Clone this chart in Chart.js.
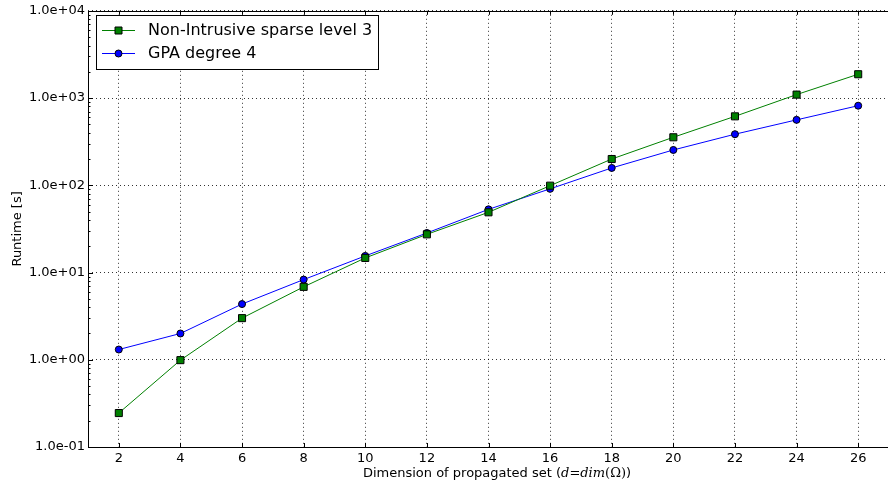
<!DOCTYPE html>
<html>
<head>
<meta charset="utf-8">
<script src="https://cdn.jsdelivr.net/npm/chart.js@4/dist/chart.umd.min.js"></script>
<style>
  html, body { margin: 0; padding: 0; background: #fff; overflow: hidden; }
  canvas { display: block; }
</style>
</head>
<body>
<canvas id="grafica" width="900" height="488"></canvas>
<script>
// dimension of the propagated set
const dims = [2, 4, 6, 8, 10, 12, 14, 16, 18, 20, 22, 24, 26];
// runtime in seconds
const nonIntrusive = [0.245, 0.99, 3.0, 6.85, 14.7, 27.4, 49, 99, 200, 355, 617, 1095, 1875];
const gpa = [1.31, 2.0, 4.35, 8.3, 15.5, 28.4, 53, 91, 158, 254, 385, 562, 817];

const yTicks = [0.1, 1, 10, 100, 1000, 10000];
const yTickLabels = ["1.0e-01", "1.0e+00", "1.0e+01", "1.0e+02", "1.0e+03", "1.0e+04"];

const fuente = "'DejaVu Sans', sans-serif";

function puntos(valores) {
  return dims.map((d, i) => ({ x: d, y: valores[i] }));
}

// frame, inward ticks, axis titles and legend box
const extras = {
  id: "extras",
  afterDraw(chart) {
    const ctx = chart.ctx;
    const area = chart.chartArea;
    const xs = chart.scales.x;
    const ys = chart.scales.y;
    ctx.save();
    ctx.strokeStyle = "#000";
    ctx.lineWidth = 1;

    // axes frame
    ctx.strokeRect(area.left + 0.5, Math.round(area.top) + 0.5, area.right - area.left, Math.round(area.bottom - area.top));

    // x major ticks (bottom and top)
    ctx.beginPath();
    for (const d of dims) {
      const px = Math.round(xs.getPixelForValue(d)) + 0.5;
      ctx.moveTo(px, area.bottom);
      ctx.lineTo(px, area.bottom - 4);
      ctx.moveTo(px, area.top);
      ctx.lineTo(px, area.top + 4);
    }
    // y major and minor ticks
    for (let k = 0; k < yTicks.length; k++) {
      const py = Math.round(ys.getPixelForValue(yTicks[k])) + 0.5;
      ctx.moveTo(area.left, py);
      ctx.lineTo(area.left + 5, py);
      if (k < yTicks.length - 1) {
        for (let m = 2; m <= 9; m++) {
          const pm = Math.round(ys.getPixelForValue(m * yTicks[k])) + 0.5;
          ctx.moveTo(area.left, pm);
          ctx.lineTo(area.left + 2.5, pm);
        }
      }
    }
    ctx.stroke();

    // y title
    ctx.fillStyle = "#000";
    ctx.font = "13px " + fuente;
    ctx.textAlign = "center";
    ctx.textBaseline = "middle";
    ctx.save();
    ctx.translate(18, (area.top + area.bottom) / 2);
    ctx.rotate(-Math.PI / 2);
    ctx.fillText("Runtime [s]", 0, 0);
    ctx.restore();

    // x title with math part
    const partes = [
      ["Dimension of propagated set (", "13px " + fuente],
      ["d", "italic 13px 'DejaVu Serif', serif"],
      ["=", "13px 'DejaVu Serif', serif"],
      ["dim", "italic 13px 'DejaVu Serif', serif"],
      ["(Ω)", "13px 'DejaVu Serif', serif"],
      [")", "13px " + fuente]
    ];
    let total = 0;
    for (const p of partes) { ctx.font = p[1]; total += ctx.measureText(p[0]).width; }
    let tx = 497 - total / 2;
    ctx.textAlign = "left";
    for (const p of partes) {
      ctx.font = p[1];
      ctx.fillText(p[0], tx, 474);
      tx += ctx.measureText(p[0]).width;
    }

    // legend
    const lx = 96, ly = 15, lw = 282, lh = 54;
    ctx.fillStyle = "#fff";
    ctx.fillRect(lx, ly, lw, lh);
    ctx.strokeStyle = "#000";
    ctx.strokeRect(lx + 0.5, ly + 0.5, lw, lh);
    chart.data.datasets.forEach((ds, i) => {
      const ry = 30.5 + i * 23;
      ctx.strokeStyle = ds.borderColor;
      ctx.lineWidth = 1;
      ctx.beginPath();
      ctx.moveTo(102, ry);
      ctx.lineTo(135, ry);
      ctx.stroke();
      ctx.fillStyle = ds.pointBackgroundColor;
      ctx.strokeStyle = "#000";
      ctx.beginPath();
      if (ds.pointStyle === "rect") {
        ctx.rect(115, ry - 3.5, 7, 7);
      } else {
        ctx.arc(118.5, ry, 3.5, 0, Math.PI * 2);
      }
      ctx.fill();
      ctx.stroke();
      ctx.fillStyle = "#000";
      ctx.font = "16px " + fuente;
      ctx.textBaseline = "middle";
      ctx.fillText(ds.label, 148, ry);
    });
    ctx.restore();
  }
};

new Chart(document.getElementById("grafica"), {
  type: "line",
  data: {
    datasets: [
      {
        label: "Non-Intrusive sparse level 3",
        data: puntos(nonIntrusive),
        borderColor: "#008000",
        borderWidth: 1,
        pointStyle: "rect",
        pointRadius: 5,
        pointBackgroundColor: "#008000",
        pointBorderColor: "#000",
        pointBorderWidth: 1
      },
      {
        label: "GPA degree 4",
        data: puntos(gpa),
        borderColor: "#0000ff",
        borderWidth: 1,
        pointStyle: "circle",
        pointRadius: 3.5,
        pointBackgroundColor: "#0000ff",
        pointBorderColor: "#000",
        pointBorderWidth: 1
      }
    ]
  },
  options: {
    responsive: false,
    animation: false,
    layout: { padding: { left: 0, top: 8, right: 11, bottom: 0 } },
    plugins: { legend: { display: false }, tooltip: { enabled: false } },
    scales: {
      x: {
        type: "linear",
        min: 1,
        max: 27,
        afterBuildTicks: (s) => { s.ticks = dims.map((v) => ({ value: v })); },
        afterFit: (s) => { s.height = 41; },
        grid: { color: "rgba(0,0,0,0.8)", drawTicks: false },
        border: { display: false, dash: [1, 3] },
        ticks: { autoSkip: false, maxRotation: 0, padding: 4, color: "#000", font: { family: fuente, size: 13 } }
      },
      y: {
        type: "logarithmic",
        min: 0.1,
        max: 10000,
        afterBuildTicks: (s) => { s.ticks = yTicks.map((v) => ({ value: v })); },
        afterFit: (s) => { s.width = 88; },
        grid: { color: "rgba(0,0,0,0.8)", drawTicks: false },
        border: { display: false, dash: [1, 3] },
        ticks: {
          autoSkip: false,
          padding: 3,
          color: "#000",
          font: { family: fuente, size: 13 },
          callback: (v, i) => yTickLabels[i]
        }
      }
    }
  },
  plugins: [extras]
});
</script>
</body>
</html>
